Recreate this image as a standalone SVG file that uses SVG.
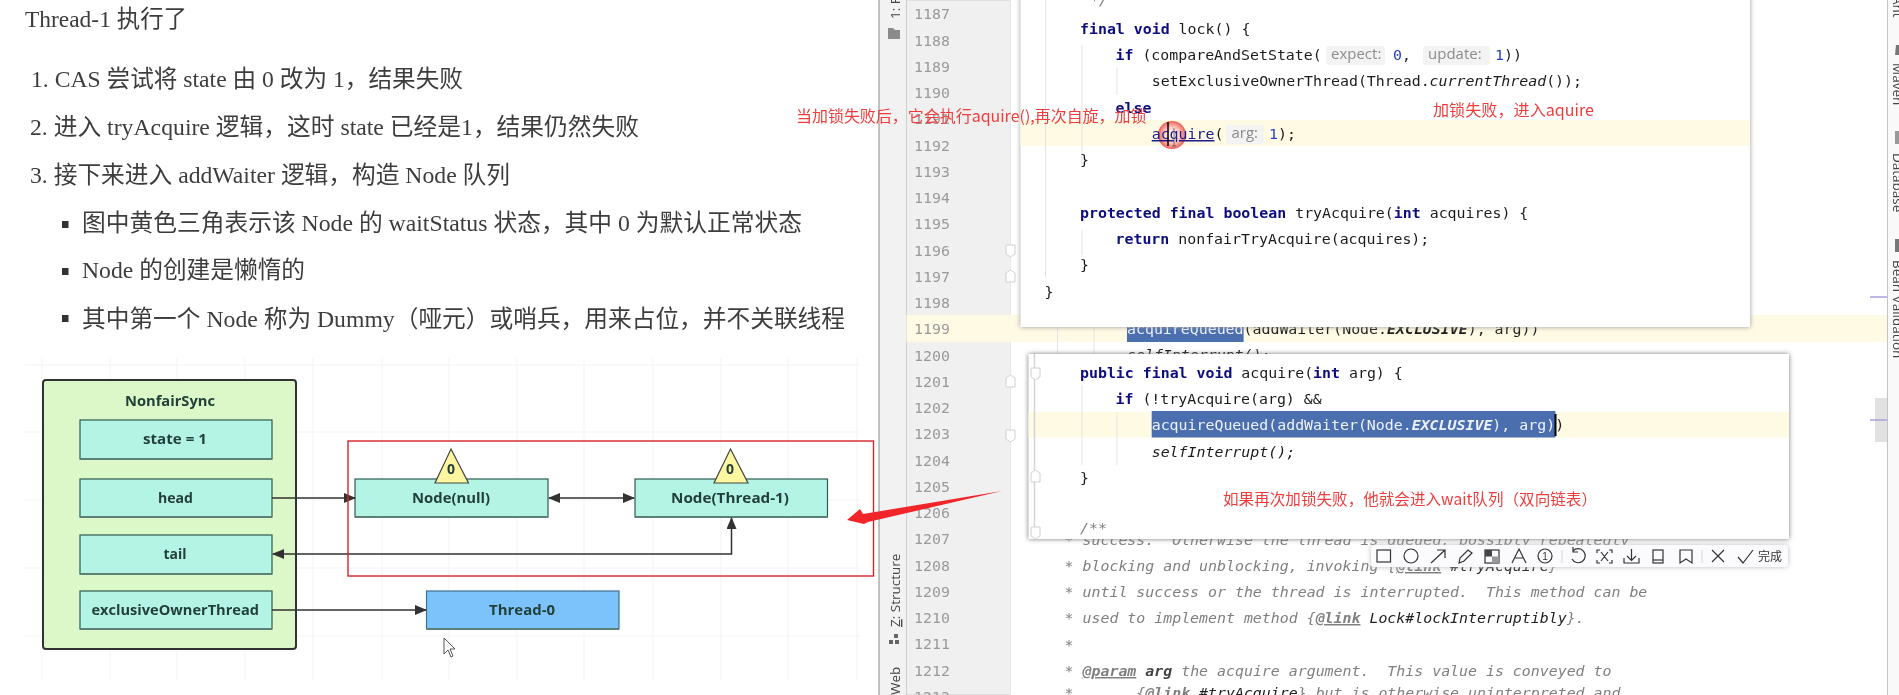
<svg xmlns="http://www.w3.org/2000/svg" width="1899" height="695" viewBox="0 0 1899 695">
<style>
.doc{font-family:"Liberation Serif","Noto Sans CJK SC",serif;font-size:23.5px;fill:#3d3d3d}
.lbl{font-family:"Open Sans","Noto Sans",sans-serif;font-size:14px;font-weight:700;fill:#24403a}
.c{font-family:"DejaVu Sans Mono","Liberation Mono",monospace;font-size:14.9px;fill:#1c1c1c;white-space:pre}
.k{font-weight:700;fill:#0a0a80}
.n{fill:#2a3fc0}
.i{font-style:italic}
.w{fill:#eef3fb}
.cm{font-style:italic;fill:#808080}
.cmb{font-weight:700;text-decoration:underline;fill:#808080}
.ln{font-family:"DejaVu Sans Mono","Liberation Mono",monospace;font-size:14.9px;fill:#9a9a9a}
.h{font-family:"Open Sans","Noto Sans",sans-serif;font-size:15px;fill:#8c8c8c}
.hb{fill:#f3f3f3}
.r{font-family:"Noto Sans CJK SC","Liberation Sans",sans-serif;font-size:15.5px;fill:#ef3d3d}
.v{font-family:"Open Sans","Noto Sans",sans-serif;font-size:13.5px;fill:#444}
.box{fill:#b4f4e4;stroke:#2e5a52;stroke-width:1.2}
.edge{stroke:#5c7f78;stroke-width:2.2;fill:none}
.wire{fill:none;stroke:#333;stroke-width:1.5}
.tri{fill:#fdf6a0;stroke:#444;stroke-width:1.2}
.ic{fill:none;stroke:#333;stroke-width:1.2}
.guide{stroke:#e4e4e4;stroke-width:1}
.grid{stroke:#f3f3f3;stroke-width:1}
.fold{fill:#fff;stroke:#d0d0d0;stroke-width:1}
</style>
<defs>
<marker id="ah" markerWidth="12" markerHeight="10" refX="11" refY="5" orient="auto-start-reverse" markerUnits="userSpaceOnUse"><path d="M0 0L12 5L0 10Z" fill="#333"/></marker>
<filter id="soft" filterUnits="userSpaceOnUse" x="0" y="0" width="1899" height="695"><feGaussianBlur stdDeviation="0.4"/></filter>
<filter id="sh" filterUnits="userSpaceOnUse" x="990" y="-20" width="840" height="600"><feGaussianBlur stdDeviation="2.5"/></filter>
<radialGradient id="spot"><stop offset="0" stop-color="#fff" stop-opacity=".6"/><stop offset=".55" stop-color="#fbb" stop-opacity=".8"/><stop offset="1" stop-color="#e9544a" stop-opacity=".95"/></radialGradient>
<clipPath id="p2below"><rect x="1040" y="539" width="800" height="160"/></clipPath>
</defs>
<rect width="1899" height="695" fill="#fff"/>
<g filter="url(#soft)">
<g id="document-text">
<text class="doc" x="25" y="27" textLength="162" lengthAdjust="spacingAndGlyphs">Thread-1 执行了</text>
<text class="doc" x="31" y="87" textLength="432" lengthAdjust="spacingAndGlyphs">1. CAS 尝试将 state 由 0 改为 1，结果失败</text>
<text class="doc" x="30" y="135" textLength="609" lengthAdjust="spacingAndGlyphs">2. 进入 tryAcquire 逻辑，这时 state 已经是1，结果仍然失败</text>
<text class="doc" x="30" y="183" textLength="480" lengthAdjust="spacingAndGlyphs">3. 接下来进入 addWaiter 逻辑，构造 Node 队列</text>
<rect x="62" y="221" width="6.5" height="7" fill="#333"/>
<rect x="62" y="268" width="6.5" height="7" fill="#333"/>
<rect x="62" y="315" width="6.5" height="7" fill="#333"/>
<text class="doc" x="82" y="231" textLength="720" lengthAdjust="spacingAndGlyphs">图中黄色三角表示该 Node 的 waitStatus 状态，其中 0 为默认正常状态</text>
<text class="doc" x="82" y="278" textLength="223" lengthAdjust="spacingAndGlyphs">Node 的创建是懒惰的</text>
<text class="doc" x="82" y="327" textLength="763" lengthAdjust="spacingAndGlyphs">其中第一个 Node 称为 Dummy（哑元）或哨兵，用来占位，并不关联线程</text>
</g>
<g id="grid">
<path class="grid" d="M25 365H860M25 432H860M25 500H860M25 568H860M25 636H860M42 358V680M110 358V680M177 358V680M245 358V680M313 358V680M382 358V680M449 358V680M517 358V680M584 358V680M653 358V680M721 358V680M788 358V680M857 358V680"/>
</g>
<g id="NonfairSync">
<rect x="43" y="380" width="253" height="269" rx="3" fill="#dcf7c8" stroke="#333" stroke-width="2"/>
<text class="lbl" x="125" y="406" textLength="90" lengthAdjust="spacingAndGlyphs">NonfairSync</text>
</g>
<g id="state"><rect class="box" x="80" y="420" width="192" height="39"/><path class="edge" d="M80 459H272"/><text class="lbl" x="143" y="444" textLength="64" lengthAdjust="spacingAndGlyphs">state = 1</text></g>
<g id="head"><rect class="box" x="80" y="479" width="192" height="38"/><path class="edge" d="M80 517H272"/><text class="lbl" x="158" y="503" textLength="35" lengthAdjust="spacingAndGlyphs">head</text></g>
<g id="tail"><rect class="box" x="80" y="535" width="192" height="39"/><path class="edge" d="M80 574H272"/><text class="lbl" x="163.500" y="559" textLength="23" lengthAdjust="spacingAndGlyphs">tail</text></g>
<g id="exclusiveOwnerThread"><rect class="box" x="80" y="591" width="192" height="38"/><path class="edge" d="M80 629H272"/><text class="lbl" x="91.500" y="615" textLength="167.500" lengthAdjust="spacingAndGlyphs">exclusiveOwnerThread</text></g>
<g id="node-null"><rect class="box" x="355" y="479" width="193" height="38"/><path class="edge" d="M355 517H548"/><text class="lbl" x="412" y="503" textLength="78" lengthAdjust="spacingAndGlyphs">Node(null)</text></g>
<g id="node-thread-1"><rect class="box" x="635" y="479" width="192.500" height="38"/><path class="edge" d="M635 517H827.500"/><text class="lbl" x="671" y="503" textLength="118" lengthAdjust="spacingAndGlyphs">Node(Thread-1)</text></g>
<g id="thread-0"><rect x="426.500" y="591" width="192.500" height="38" fill="#7cc3fb" stroke="#3d6f96" stroke-width="1.2"/><path class="edge" d="M426.500 629H619"/><text class="lbl" x="489" y="615" textLength="66" lengthAdjust="spacingAndGlyphs">Thread-0</text></g>
<g id="status-null"><path class="tri" d="M451 449L468.500 483H435Z"/><text class="lbl" x="451" y="474" text-anchor="middle">0</text></g>
<g id="status-thread-1"><path class="tri" d="M730.500 449L748 483H714Z"/><text class="lbl" x="730" y="474" text-anchor="middle">0</text></g>
<g id="connectors">
<path class="wire" d="M272 498H355" marker-end="url(#ah)"/>
<path class="wire" d="M549 498H634" marker-start="url(#ah)" marker-end="url(#ah)"/>
<path class="wire" d="M273 554H731.500V518" marker-start="url(#ah)" marker-end="url(#ah)"/>
<path class="wire" d="M272 610H426" marker-end="url(#ah)"/>
</g>
<rect id="selection" x="348" y="441" width="525.500" height="135" fill="none" stroke="#d4262a" stroke-width="1.4"/>
<path id="mouse" d="M444 638V654L448 650L451 657L453 656L450 649L455 649Z" fill="#fff" stroke="#444" stroke-width=".9"/>

<g id="ide-frame">
<rect x="879" y="0" width="27.500" height="695" fill="#f2f2f2"/>
<path d="M879 0V695" stroke="#8a8a8a" stroke-width="1"/>
<rect x="906.500" y="0" width="104" height="695" fill="#f0f0f0" stroke="#cfcfcf" stroke-width="1"/>
<rect x="1010.500" y="0" width="877" height="695" fill="#fff"/>
<rect x="906.500" y="315" width="981" height="27" fill="#fffae3"/>
<rect x="1875" y="398" width="12" height="44" fill="#e2e2e2"/>
<path d="M1870 297H1887M1870 420H1887" stroke="#a9a0dc" stroke-width="1.5"/>
<path d="M1887.500 0V695" stroke="#c4c4c4" stroke-width="1"/>
<rect x="1888" y="0" width="11" height="695" fill="#f9f9f9"/>
<path d="M888 34.500V28H893L895 30H900V39H888Z" fill="#8b8b8b"/>
<text class="v" transform="translate(900,19) rotate(-90)">1: Project</text>
<text class="v" transform="translate(900,627) rotate(-90)"><tspan text-decoration="underline">Z</tspan>: Structure</text>
<path d="M894 634h4v4h-4zM889 640h4v4h-4zM895 640h4v4h-4z" fill="#666"/>
<text class="v" transform="translate(900,695) rotate(-90)">Web</text>
<text class="v" transform="translate(1893,-4) rotate(90)">Ant</text>
<text class="v" transform="translate(1893,63) rotate(90)">Maven</text>
<text class="v" transform="translate(1893,153) rotate(90)">Database</text>
<text class="v" transform="translate(1893,260) rotate(90)">Bean Validation</text>
<path d="M1896 45L1899 45V55H1895Z" fill="#777"/>
<rect x="1895" y="131" width="4" height="13" fill="#999"/>
<rect x="1895" y="239" width="4" height="13" fill="#777"/>
</g>
<g id="line-numbers">
<text class="ln" x="914" y="19">1187</text><text class="ln" x="914" y="46">1188</text><text class="ln" x="914" y="72">1189</text><text class="ln" x="914" y="98">1190</text><text class="ln" x="914" y="124">1191</text><text class="ln" x="914" y="151">1192</text><text class="ln" x="914" y="177">1193</text><text class="ln" x="914" y="203">1194</text><text class="ln" x="914" y="229">1195</text><text class="ln" x="914" y="256">1196</text><text class="ln" x="914" y="282">1197</text><text class="ln" x="914" y="308">1198</text><text class="ln" x="914" y="334">1199</text><text class="ln" x="914" y="361">1200</text><text class="ln" x="914" y="387">1201</text><text class="ln" x="914" y="413">1202</text><text class="ln" x="914" y="439">1203</text><text class="ln" x="914" y="466">1204</text><text class="ln" x="914" y="492">1205</text><text class="ln" x="914" y="518">1206</text><text class="ln" x="914" y="544">1207</text><text class="ln" x="914" y="571">1208</text><text class="ln" x="914" y="597">1209</text><text class="ln" x="914" y="623">1210</text><text class="ln" x="914" y="649">1211</text><text class="ln" x="914" y="676">1212</text><text class="ln" x="914" y="702">1213</text>
<path class="fold" d="M1006 245h9v9l-4.500 3-4.500-3zM1006 282h9v-9l-4.500-3-4.500 3zM1006 387h9v-9l-4.500-3-4.500 3zM1006 430h9v9l-4.500 3-4.500-3z"/>
</g>
<g id="background-code">
<path class="guide" d="M1057.500 327V354M1094 327V354"/>
<rect x="1127" y="322" width="116.600" height="20" fill="#4b6eaf"/>
<text class="c" x="1127" y="334"><tspan class="w">acquireQueued</tspan>(addWaiter(Node.<tspan class="i" font-weight="700">EXCLUSIVE</tspan>), arg))</text>
<text class="c i" x="1127" y="360">selfInterrupt();</text>
<g clip-path="url(#p2below)"><text class="c cm" x="1064.600" y="545">* success.  Otherwise the thread is queued, possibly repeatedly</text></g>
<text class="c cm" x="1064.600" y="571">* blocking and unblocking, invoking {<tspan class="cmb">@link</tspan> <tspan fill="#222">#tryAcquire</tspan>}</text>
<text class="c cm" x="1064.600" y="597">* until success or the thread is interrupted.  This method can be</text>
<text class="c cm" x="1064.600" y="623">* used to implement method {<tspan class="cmb">@link</tspan> <tspan fill="#222">Lock#lockInterruptibly</tspan>}.</text>
<text class="c cm" x="1064.600" y="650">*</text>
<text class="c cm" x="1064.600" y="676">* <tspan class="cmb">@param</tspan> <tspan font-weight="700" fill="#444">arg</tspan> the acquire argument.  This value is conveyed to</text>
<text class="c cm" x="1064.600" y="698">*       {<tspan class="cmb">@link</tspan> <tspan fill="#222">#tryAcquire</tspan>} but is otherwise uninterpreted and</text>
</g>
<g id="popup-lock">
<rect x="1020.500" y="-10" width="729.500" height="337" fill="#9a9a9a" filter="url(#sh)"/>
<rect x="1020.500" y="-10" width="729.500" height="337" fill="#fff"/>
<rect x="1020.500" y="120" width="729.500" height="26" fill="#fffae3"/>
<path class="guide" d="M1045.500 0V277M1082 45V165M1082 230V255M1117 68V95"/>
<text class="c cm" x="1090" y="5">*/</text>
<text class="c" x="1080" y="34"><tspan class="k">final void</tspan> lock() {</text>
<rect class="hb" x="1326" y="46" width="59" height="19" rx="3"/>
<rect class="hb" x="1423" y="46" width="67" height="19" rx="3"/>
<text class="c" x="1115.500" y="60"><tspan class="k">if</tspan> (compareAndSetState(</text>
<text class="h" x="1331" y="59">expect:</text>
<text class="c n" x="1393" y="60">0<tspan fill="#1c1c1c">,</tspan></text>
<text class="h" x="1428" y="59">update:</text>
<text class="c" x="1495" y="60"><tspan class="n">1</tspan>))</text>
<text class="c" x="1151.700" y="86">setExclusiveOwnerThread(Thread.<tspan class="i">currentThread</tspan>());</text>
<text class="c k" x="1115.500" y="113">else</text>
<circle cx="1172" cy="135" r="14" fill="url(#spot)"/>
<text class="c" x="1151.700" y="139"><tspan fill="#1a1a8c" text-decoration="underline">acquire</tspan>(</text>
<rect class="hb" x="1226" y="125" width="38" height="19" rx="3"/>
<text class="h" x="1231.500" y="138">arg:</text>
<text class="c" x="1269" y="139"><tspan class="n">1</tspan>);</text>
<path d="M1168 122V146" stroke="#000" stroke-width="1.5"/>
<path d="M1172 146h4M1174 128v18" stroke="#555" stroke-width=".8"/>
<text class="c" x="1080" y="165">}</text>
<text class="c" x="1080" y="218"><tspan class="k">protected final boolean</tspan> tryAcquire(<tspan class="k">int</tspan> acquires) {</text>
<text class="c" x="1115.500" y="244"><tspan class="k">return</tspan> nonfairTryAcquire(acquires);</text>
<text class="c" x="1080" y="270">}</text>
<text class="c" x="1044.600" y="297">}</text>
</g>
<g id="popup-acquire">
<rect x="1028.500" y="354" width="760.500" height="185" fill="#777" filter="url(#sh)"/>
<rect x="1028.500" y="354" width="760.500" height="185" fill="#fff"/>
<rect x="1028.500" y="412" width="760.500" height="25.500" fill="#fffae3"/>
<rect x="1151.700" y="411" width="403.700" height="26.500" fill="#4b6eaf"/>
<path d="M1034.500 354V539" stroke="#d4d4d4" stroke-width="1.5"/>
<path class="fold" d="M1031 368h9v9l-4.500 3-4.500-3zM1031 482h9v-9l-4.500-3-4.500 3zM1031 527h9v9l-4.500 3-4.500-3z"/>
<path class="guide" d="M1082 385V465M1117 412V465"/>
<text class="c" x="1080" y="378"><tspan class="k">public final void</tspan> acquire(<tspan class="k">int</tspan> arg) {</text>
<text class="c" x="1115.500" y="404"><tspan class="k">if</tspan> (!tryAcquire(arg) &amp;&amp;</text>
<text class="c" x="1151.700" y="430"><tspan class="w">acquireQueued(addWaiter(Node.</tspan><tspan class="w i" font-weight="700">EXCLUSIVE</tspan><tspan class="w">), arg)</tspan>)</text>
<path d="M1555.500 414V436" stroke="#000" stroke-width="2"/>
<text class="c i" x="1151.700" y="457">selfInterrupt();</text>
<text class="c" x="1080" y="483">}</text>
<text class="c cm" x="1080" y="533">/**</text>
</g>
<g id="notes">
<text class="r" x="796" y="122" textLength="350.500" lengthAdjust="spacingAndGlyphs">当加锁失败后，它会执行aquire(),再次自旋，加锁</text>
<text class="r" x="1433" y="116" textLength="161" lengthAdjust="spacingAndGlyphs">加锁失败，进入aquire</text>
<text class="r" x="1223" y="505" textLength="374" lengthAdjust="spacingAndGlyphs">如果再次加锁失败，他就会进入wait队列（双向链表）</text>
</g>
<g id="capture-toolbar">
<rect x="1371" y="545" width="417" height="22" rx="2" fill="#bbb" filter="url(#sh)"/>
<rect x="1371" y="545" width="417" height="22" rx="2" fill="#fbfbfd"/>
<rect class="ic" x="1377" y="550" width="13.500" height="12"/>
<circle class="ic" cx="1411" cy="556" r="7"/>
<path class="ic" d="M1431 563L1445 550M1437 550H1445V558"/>
<path class="ic" d="M1459 563L1460 558L1468 550L1472 553L1464 561Z"/>
<rect class="ic" x="1485" y="550" width="14" height="13"/><rect x="1485" y="550" width="7" height="6.500" fill="#444"/><rect x="1492" y="556.500" width="7" height="6.500" fill="#999"/>
<path class="ic" d="M1512 563L1519 549L1526 563M1514.500 558H1523.500"/>
<circle class="ic" cx="1545" cy="556" r="7"/><text x="1545" y="560" text-anchor="middle" font-family="Liberation Sans,sans-serif" font-size="10" fill="#333">1</text>
<path d="M1562 550V563M1702 550V563" stroke="#d5d5d5"/>
<path class="ic" d="M1573 551A7 7 0 1 1 1572 559M1573 547V552H1578"/>
<path class="ic" d="M1597 553V550H1600M1609 550H1612V553M1597 560V563H1600M1612 560V563H1609M1601 552L1608 561M1608 552L1601 561"/>
<path class="ic" d="M1631.500 549V560M1627 556L1631.500 560.500L1636 556M1624 558V563H1639V558"/>
<rect class="ic" x="1653" y="550" width="10" height="13"/><path class="ic" d="M1653 560H1663"/>
<path class="ic" d="M1680 550H1692V563L1686 559L1680 563Z"/>
<path class="ic" d="M1712 550L1724 562M1724 550L1712 562"/>
<path class="ic" d="M1738 557L1743 563L1753 550"/>
<text x="1758" y="561" font-family="Noto Sans CJK SC,sans-serif" font-size="12" fill="#333">完成</text>
</g>
<path id="red-arrow" d="M847 520L860 509L863 514L1002 491L868 522L864 524Z" fill="#f0262c"/>
</g>
</svg>
